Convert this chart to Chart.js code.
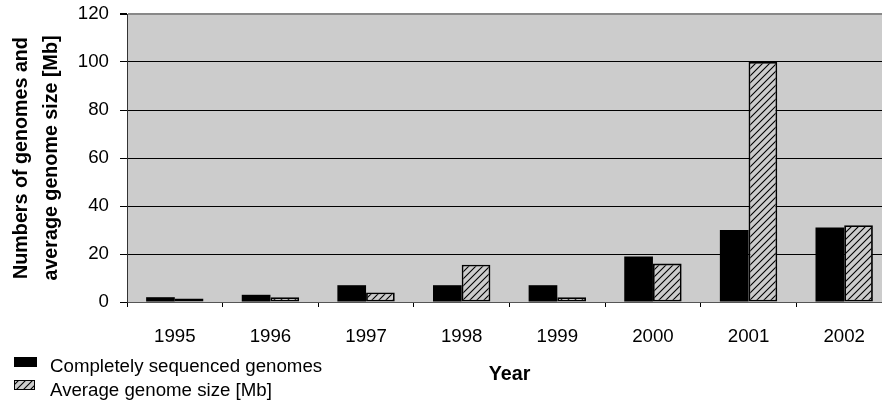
<!DOCTYPE html>
<html>
<head>
<meta charset="utf-8">
<script src="https://cdn.jsdelivr.net/npm/chart.js@4/dist/chart.umd.min.js"></script>
<style>
  html, body { margin: 0; padding: 0; overflow: hidden; background: #ffffff; }
  #wrap { position: relative; width: 892px; height: 405px; }
  canvas { display: block; }
</style>
</head>
<body>
<div id="wrap"><canvas id="chart" width="892" height="405"></canvas></div>
<script>
// Years on the category axis
const years = ['1995', '1996', '1997', '1998', '1999', '2000', '2001', '2002'];
// Number of completely sequenced genomes per year
const genomeCounts = [2, 3, 7, 7, 7, 19, 30, 31];
// Average genome size [Mb] per year
const avgGenomeSize = [1.5, 2, 4, 15.5, 2, 16, 100, 32];
// Value axis range
const yMin = 0;
const yMax = 120;
const yStep = 20;

const seriesNames = ['Completely sequenced genomes', 'Average genome size [Mb]'];
const FONT = '"Liberation Sans", Arial, sans-serif';
const PLOT_BG = '#cccccc';
const LABEL_SIZE = 18.7;
const TITLE_SIZE = 19.7;

// Diagonal "/" hatch on the plot grey
function makeHatch(ctx) {
  const s = 7;
  const tile = document.createElement('canvas');
  tile.width = s; tile.height = s;
  const t = tile.getContext('2d');
  t.fillStyle = PLOT_BG;
  t.fillRect(0, 0, s, s);
  t.strokeStyle = '#000000';
  t.lineWidth = 1.1;
  t.beginPath();
  t.moveTo(-1, s + 1); t.lineTo(s + 1, -1);
  t.moveTo(-1, 1); t.lineTo(1, -1);
  t.moveTo(s - 1, s + 1); t.lineTo(s + 1, s - 1);
  t.stroke();
  return ctx.createPattern(tile, 'repeat');
}

const canvas = document.getElementById('chart');
const ctx = canvas.getContext('2d');
const hatch = makeHatch(ctx);

// Grey plot background
const plotBackground = {
  id: 'plotBackground',
  beforeDraw(chart) {
    const { ctx, chartArea: a } = chart;
    ctx.save();
    ctx.fillStyle = PLOT_BG;
    ctx.fillRect(a.left, a.top, a.right - a.left, a.bottom - a.top);
    ctx.restore();
  }
};

// Stacked legend in the lower-left corner
const cornerLegend = {
  id: 'cornerLegend',
  afterDraw(chart) {
    const c = chart.ctx;
    c.save();
    c.font = LABEL_SIZE + 'px ' + FONT;
    c.textBaseline = 'middle';
    c.textAlign = 'left';
    // black swatch
    c.fillStyle = '#000';
    c.fillRect(14, 357, 23, 10);
    // hatched swatch
    c.fillStyle = hatch;
    c.fillRect(14, 380, 20, 9);
    c.strokeStyle = '#000';
    c.lineWidth = 1;
    c.strokeRect(14.5, 380.5, 20, 9);
    c.fillStyle = '#000';
    const ds = chart.data.datasets;
    c.fillText(ds[0].label, 50, 367);
    c.fillText(ds[1].label, 50, 391);
    c.restore();
  }
};

new Chart(ctx, {
  type: 'bar',
  data: {
    labels: years,
    datasets: [
      {
        label: seriesNames[0],
        data: genomeCounts,
        backgroundColor: '#000000',
        borderWidth: 0,
        categoryPercentage: 0.6,
        barPercentage: 1.0
      },
      {
        label: seriesNames[1],
        data: avgGenomeSize,
        backgroundColor: hatch,
        borderColor: '#000000',
        borderWidth: 1.8,
        borderSkipped: false,
        categoryPercentage: 0.6,
        barPercentage: 1.0
      }
    ]
  },
  options: {
    responsive: false,
    animation: false,
    layout: { padding: { top: 14, right: 0, left: 0, bottom: 0 } },
    plugins: {
      legend: { display: false },
      tooltip: { enabled: false }
    },
    scales: {
      x: {
        offset: true,
        grid: {
          offset: true,
          drawOnChartArea: false,
          drawTicks: true,
          tickLength: 5,
          color: '#000000'
        },
        border: { color: '#555555', width: 1 },
        ticks: {
          color: '#000',
          font: { family: FONT, size: LABEL_SIZE },
          padding: 19,
          maxRotation: 0
        },
        title: {
          display: true,
          text: 'Year',
          color: '#000',
          font: { family: FONT, size: TITLE_SIZE, weight: 'bold' },
          padding: { top: 8, bottom: 19 }
        },
        afterFit(scale) {
          scale.height = 103;
          scale.paddingLeft = 0;
          scale.paddingRight = 0;
        }
      },
      y: {
        min: yMin,
        max: yMax,
        ticks: {
          stepSize: yStep,
          color: '#000',
          font: { family: FONT, size: LABEL_SIZE },
          padding: 11
        },
        grid: {
          color: (c) => (c.tick && c.tick.value === yMax ? '#888888' : '#000000'),
          lineWidth: (c) => (c.tick && c.tick.value === yMax ? 2 : 1),
          tickLength: 7,
          tickColor: '#000000'
        },
        border: { color: '#333333', width: 1 },
        title: {
          display: true,
          text: ['Numbers of genomes and', 'average genome size [Mb]'],
          color: '#000',
          font: { family: FONT, size: TITLE_SIZE, weight: 'bold', lineHeight: 1.52 },
          padding: { top: 7, bottom: 0 }
        },
        afterFit(scale) {
          scale.width = 127;
          scale.paddingTop = 0;
          scale.paddingBottom = 0;
        }
      }
    }
  },
  plugins: [plotBackground, cornerLegend]
});
</script>
</body>
</html>
